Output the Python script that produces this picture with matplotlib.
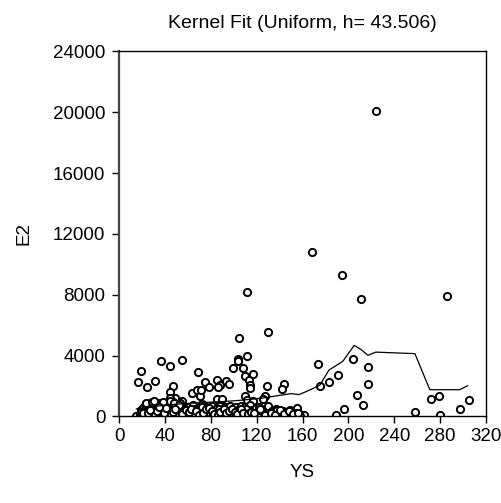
import numpy as np
import matplotlib
matplotlib.use("Agg")
import matplotlib.pyplot as plt

plt.rcParams['font.family'] = ['Liberation Sans', 'DejaVu Sans']

# scattered / upper points
ys_pts = [15, 16.5, 18.7, 24, 31.4, 36.6, 44.2, 54.5, 46.7, 44, 49, 54.7, 44, 35.2, 26.5, 21.5,
          63.1, 68.9, 67.5, 70.4, 71.3, 74.8, 78.4, 85.3, 87.9, 93.4, 95.8, 86.4, 85, 89.3,
          99.5, 103.8, 103.8, 104.3, 108.2, 111.1, 109.7, 113.2, 114, 114, 116.9, 109.7, 111.1,
          111.1, 130, 128.6, 127.5, 125.1, 143.7, 141.7, 116.9, 173.6, 167.8, 194, 211.3, 224,
          285.6, 175.5, 183, 190.5, 204.2, 217.2, 217.2, 207.1, 212.9, 196.3, 188.8, 258.2,
          271.7, 279.2, 279.8, 297.2, 305.1]
e2_pts = [50, 2250, 2960, 1920, 2350, 3630, 3310, 3730, 2000, 1580, 1215, 1050, 1215, 890, 890, 620,
          1540, 2920, 1760, 1320, 1710, 2290, 1940, 2400, 2100, 2300, 2150, 1970, 1170, 1170,
          3200, 3800, 3620, 5180, 3200, 4000, 2630, 2380, 2090, 1870, 2800, 1366, 1100,
          8200, 5560, 1990, 1366, 1169, 2154, 1806, 1000, 3460, 10820, 9290, 7720, 20100,
          7950, 2023, 2270, 2745, 3776, 3225, 2154, 1432, 755, 493, 118, 315,
          1149, 1320, 118, 512, 1057]

# dense cluster near zero
ys_low1 = [18, 19, 20, 21, 22, 22, 23, 24, 24, 25, 26, 26, 27, 28, 28, 29, 30, 30, 31, 32,
           32, 33, 34, 34, 35, 36, 36, 37, 38, 38, 39, 40, 40, 41, 42, 42, 43, 44, 44, 45,
           46, 46, 47, 48, 48, 49, 50, 50, 51, 52, 53, 54, 55]
e2_low1 = [150, 420, 80, 560, 260, 30, 700, 350, 120, 480, 60, 640, 290, 180, 520, 90, 400, 760, 220, 40,
           610, 330, 150, 470, 820, 260, 70, 540, 380, 190, 660, 110, 430, 300, 50, 720, 240, 580, 160, 390,
           30, 850, 460, 270, 620, 130, 350, 80, 540, 210, 440, 120, 680]

ys_low2 = [56, 57, 58, 59, 60, 61, 62, 63, 64, 65, 66, 67, 68, 69, 70, 71, 72, 73, 74, 75,
           76, 77, 78, 79, 80, 81, 82, 83, 84, 85, 86, 87, 88, 89, 90, 91, 92, 93, 94, 95,
           96, 97, 98, 99, 100, 101, 102, 103, 104, 105, 106, 107, 108, 109, 110, 112, 113, 114, 115, 116,
           118, 119]
e2_low2 = [300, 90, 520, 180, 650, 40, 380, 230, 740, 120, 460, 280, 60, 590, 350, 170, 800, 30, 420, 250,
           640, 110, 330, 500, 70, 720, 210, 400, 140, 560, 50, 300, 680, 190, 430, 90, 610, 260, 40, 480,
           150, 720, 330, 80, 560, 220, 650, 120, 400, 30, 700, 270, 500, 160, 620, 80, 350, 740, 200, 450,
           100, 560]

ys_low3 = [120, 122, 124, 126, 128, 130, 131, 133, 135, 137, 139, 141, 143, 145, 147, 149, 151, 153, 155, 157, 159, 161]
e2_low3 = [250, 600, 80, 420, 180, 720, 30, 330, 140, 500, 60, 260, 380, 100, 200, 450, 40, 300, 560, 150, 60, 120]

ys_low4 = [20, 23, 27, 29, 33, 35, 37, 41, 43, 47, 51, 53, 57, 59, 62, 64, 66, 69, 72, 74,
           77, 79, 82, 84, 87, 89, 92, 94, 97, 99, 102, 104, 107, 109, 111, 113, 117, 121, 125, 129,
           134, 138, 142, 146, 150, 154, 158, 44, 38, 30, 48, 52]
e2_low4 = [320, 880, 200, 950, 560, 100, 300, 780, 450, 950, 250, 860, 520, 120, 260, 80, 180, 420, 600, 100,
           360, 220, 50, 280, 480, 130, 330, 150, 250, 420, 120, 300, 80, 180, 460, 260, 130, 60, 380, 240,
           160, 420, 60, 320, 120, 200, 40, 1000, 980, 1020, 900, 760]

ys_low5 = [19, 21, 25, 27, 31, 33, 35, 39, 41, 45, 47, 49, 55, 58, 61, 63, 67, 70, 73, 76,
           78, 81, 83, 86, 88, 91, 93, 96, 98, 101, 103, 106, 108, 112, 115, 118, 123, 127, 132, 136,
           140, 144, 148, 152, 156]
e2_low5 = [300, 250, 200, 420, 120, 380, 620, 250, 560, 150, 280, 520, 160, 400, 300, 480, 360, 90, 250, 460,
           560, 340, 180, 120, 280, 460, 200, 360, 520, 300, 140, 480, 260, 160, 320, 260, 480, 120, 260, 80,
           420, 180, 380, 140, 260]

# kernel fit curve
fit_x = [15, 25, 35, 45, 55, 65, 75, 85, 95, 105, 115, 125, 135, 140, 150, 157, 165, 175, 183, 195,
         205, 211, 217, 224, 258, 271, 297, 304]
fit_y = [500, 600, 700, 780, 830, 880, 920, 960, 1000, 1060, 1130, 1210, 1330, 1390, 1500, 1440, 1700, 2050, 3050, 3620,
         4670, 4400, 4020, 4230, 4130, 1760, 1760, 2020]

ys = ys_pts + ys_low1 + ys_low2 + ys_low3 + ys_low4 + ys_low5
e2 = e2_pts + e2_low1 + e2_low2 + e2_low3 + e2_low4 + e2_low5

fig = plt.figure(figsize=(5.01, 5.03), dpi=100)
ax = fig.add_axes([0.238, 0.172, 0.732, 0.726])

ax.plot(ys, e2, linestyle='none', marker='o', markersize=5.2, markerfacecolor='white',
        markeredgecolor='black', markeredgewidth=1.4)
ax.plot(fit_x, fit_y, color='black', linewidth=0.9)

ax.set_xlim(0, 320)
ax.set_ylim(0, 24000)
ax.set_xticks(np.arange(0, 321, 40))
ax.set_yticks(np.arange(0, 24001, 4000))
ax.tick_params(direction='out', length=5, width=1, labelsize=13.5)
ax.tick_params(axis='y', pad=5)
ax.tick_params(axis='x', pad=3)

for s in ax.spines.values():
    s.set_color('black')
    s.set_linewidth(1)
ax.spines['left'].set_linewidth(1.6)
ax.spines['left'].set_color('#444444')

ax.set_title('Kernel Fit (Uniform, h= 43.506)', fontsize=14, pad=17)
ax.set_xlabel('YS', fontsize=13.5, labelpad=14)
ax.set_ylabel('E2', fontsize=13.5, labelpad=15)

fig.savefig('out.png', dpi=100)
